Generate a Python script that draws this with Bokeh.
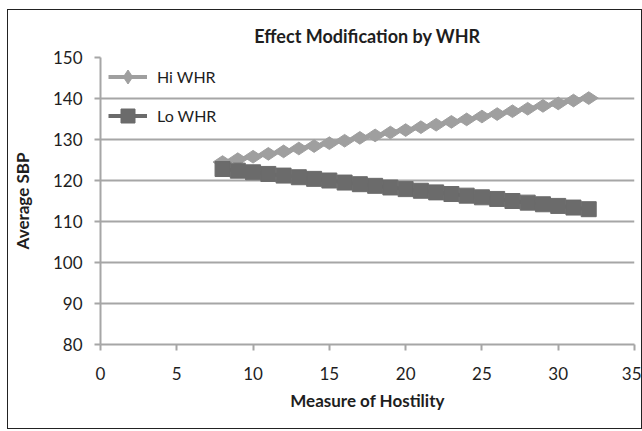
import math
from bokeh.plotting import figure
from bokeh.models import Range1d, FixedTicker
from bokeh.embed import file_html
from bokeh.resources import INLINE

hostility = [8, 9, 10, 11, 12, 13, 14, 15, 16, 17, 18, 19, 20, 21, 22, 23, 24, 25, 26, 27, 28, 29, 30, 31, 32]
hi_whr = [124.5, 125.2, 125.8, 126.5, 127.1, 127.8, 128.4, 129.1, 129.7, 130.4, 131.0, 131.7, 132.3,
          133.0, 133.6, 134.3, 134.9, 135.6, 136.2, 136.9, 137.5, 138.2, 138.8, 139.5, 140.1]
lo_whr = [122.8, 122.4, 122.0, 121.6, 121.2, 120.8, 120.4, 120.0, 119.5, 119.1, 118.7, 118.3, 117.9,
          117.5, 117.1, 116.7, 116.3, 115.9, 115.5, 115.0, 114.6, 114.2, 113.8, 113.4, 113.0]
x_ticks = [0, 5, 10, 15, 20, 25, 30, 35]
y_ticks = [80, 90, 100, 110, 120, 130, 140, 150]

FONT = "Lato"
HI_COLOR = "#9f9f9f"
LO_COLOR = "#6b6b6b"
AXIS_COLOR = "#a6a6a6"
TEXT_COLOR = "#1e1e1e"

p = figure(
    frame_width=534, frame_height=287,
    min_border_left=90, min_border_right=7, min_border_top=47, min_border_bottom=84,
    output_backend="svg", toolbar_location=None,
    x_range=Range1d(0, 35), y_range=Range1d(80, 150),
    title="Effect Modification by WHR",
)
p.styles = {"border": "1px solid #222222", "margin-left": "7px", "margin-top": "9px"}

p.title.align = "center"
p.title.text_font = FONT
p.title.text_font_size = "18px"
p.title.text_font_style = "bold"
p.title.text_color = TEXT_COLOR
p.title.offset = 0
p.title.standoff = 22

p.outline_line_color = None
p.background_fill_color = "white"
p.border_fill_color = "white"

p.xgrid.grid_line_color = None
p.ygrid.grid_line_color = AXIS_COLOR
p.ygrid.grid_line_width = 2
p.ygrid.ticker = FixedTicker(ticks=y_ticks)

p.xaxis.ticker = FixedTicker(ticks=x_ticks)
p.yaxis.ticker = FixedTicker(ticks=y_ticks)
for ax in (p.xaxis[0], p.yaxis[0]):
    ax.axis_line_color = AXIS_COLOR
    ax.axis_line_width = 2
    ax.major_tick_line_color = AXIS_COLOR
    ax.major_tick_line_width = 2
    ax.major_tick_out = 6
    ax.major_tick_in = 0
    ax.minor_tick_line_color = None
    ax.major_label_text_font = FONT
    ax.major_label_text_font_size = "17px"
    ax.major_label_text_color = TEXT_COLOR
    ax.axis_label_text_font = FONT
    ax.axis_label_text_font_size = "17px"
    ax.axis_label_text_font_style = "bold"
    ax.axis_label_text_color = TEXT_COLOR

p.xaxis.axis_label = "Measure of Hostility"
p.yaxis.axis_label = "Average SBP"
p.xaxis.major_label_standoff = 16
p.xaxis.axis_label_standoff = 7
p.yaxis.major_label_standoff = 12
p.yaxis.axis_label_standoff = 17

p.line(hostility, hi_whr, color=HI_COLOR, line_width=4, legend_label="Hi WHR")
p.scatter(hostility, hi_whr, marker="diamond", angle=math.pi / 2, size=19,
          color=HI_COLOR, legend_label="Hi WHR")
p.line(hostility, lo_whr, color=LO_COLOR, line_width=4, legend_label="Lo WHR")
p.scatter(hostility, lo_whr, marker="square", size=15, color=LO_COLOR, legend_label="Lo WHR")

lg = p.legend[0]
lg.location = (8, 211)
lg.border_line_color = None
lg.background_fill_alpha = 0
lg.margin = 0
lg.padding = 0
lg.spacing = 4
lg.glyph_width = 39
lg.glyph_height = 35
lg.label_height = 35
lg.label_standoff = 10
lg.label_text_font = FONT
lg.label_text_font_size = "16px"
lg.label_text_color = TEXT_COLOR

open("out.html", "w").write(file_html(p, INLINE))
